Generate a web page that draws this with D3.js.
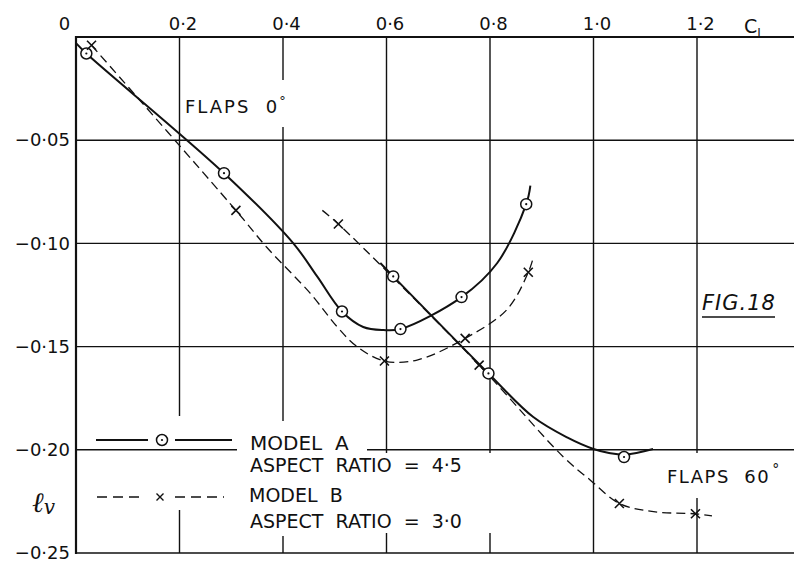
<!DOCTYPE html>
<html>
<head>
<meta charset="utf-8">
<script src="https://cdn.jsdelivr.net/npm/d3@7"></script>
<style>
  body { margin: 0; background: #fff; }
  svg { display: block; }
  text { font-family: "DejaVu Sans", sans-serif; fill: #111; white-space: pre; }
</style>
</head>
<body>
<div id="chart"></div>
<script>
// lift coefficient ticks along the top, lv ticks down the left
var xTicks = [0, 0.2, 0.4, 0.6, 0.8, 1.0, 1.2];
var yTicks = [-0.05, -0.10, -0.15, -0.20, -0.25];

// model A (aspect ratio 4.5), solid line, circle markers
var aFlaps0Line = [[0.0, -0.003], [0.02, -0.008], [0.286, -0.066], [0.42, -0.100], [0.466, -0.116],
    [0.514, -0.133], [0.555, -0.1405], [0.594, -0.142], [0.627, -0.1415], [0.745, -0.126],
    [0.814, -0.1095], [0.87, -0.081], [0.878, -0.072]];
var aFlaps0Pts = [[0.02, -0.008], [0.286, -0.066], [0.514, -0.133], [0.627, -0.1415], [0.745, -0.126], [0.87, -0.081]];
var aFlaps60Line = [[0.588, -0.1095], [0.613, -0.116], [0.797, -0.163], [0.883, -0.184], [0.949, -0.194],
    [1.0, -0.1996], [1.03, -0.2015], [1.062, -0.2023], [1.115, -0.1996]];
var aFlaps60Pts = [[0.613, -0.116], [0.797, -0.163], [1.059, -0.2035]];

// model B (aspect ratio 3.0), dashed line, cross markers
var bFlaps0Line = [[0.03, -0.004], [0.309, -0.084], [0.369, -0.102], [0.452, -0.124], [0.505, -0.1405],
    [0.543, -0.150], [0.596, -0.157], [0.659, -0.1565], [0.752, -0.146], [0.833, -0.132],
    [0.874, -0.114], [0.884, -0.1066]];
var bFlaps0Pts = [[0.03, -0.004], [0.309, -0.084], [0.596, -0.157], [0.752, -0.146], [0.874, -0.114]];
var bFlaps60Line = [[0.476, -0.084], [0.507, -0.0906], [0.779, -0.159], [0.942, -0.2035], [0.994, -0.2147],
    [1.050, -0.226], [1.116, -0.230], [1.197, -0.231], [1.229, -0.232]];
var bFlaps60Pts = [[0.507, -0.0906], [0.779, -0.159], [1.050, -0.226], [1.197, -0.231]];

var width = 794, height = 565;
var plotLeft = 76, plotTop = 37, plotBottom = 553;

var svg = d3.select('#chart').append('svg')
    .attr('width', width)
    .attr('height', height);

svg.append('rect').attr('width', width).attr('height', height).attr('fill', '#fff');

var x = d3.scaleLinear().domain([0, 1.2]).range([plotLeft, 697]);
var y = d3.scaleLinear().domain([0, -0.25]).range([plotTop, plotBottom]);

function fmt(d){
    return d3.format('.1f')(d).replace('.', '·');
}

// vertical grid lines
svg.append('g')
    .selectAll('line')
    .data(xTicks.slice(1))
    .enter().append('line')
    .attr('x1', function(d){ return x(d); })
    .attr('x2', function(d){ return x(d); })
    .attr('y1', plotTop)
    .attr('y2', plotBottom)
    .attr('stroke', '#111')
    .attr('stroke-width', 1.4);

// gaps in the verticals where the legend and labels sit
var white = svg.append('g').attr('fill', '#fff');
white.append('rect').attr('x', 88).attr('y', 416).attr('width', 152).attr('height', 94);
white.append('rect').attr('x', 240).attr('y', 421).attr('width', 125).attr('height', 115);
white.append('rect').attr('x', 365).attr('y', 453).attr('width', 135).attr('height', 80);
white.append('rect').attr('x', 640).attr('y', 453).attr('width', 154).attr('height', 45);
white.append('rect').attr('x', 183).attr('y', 80).attr('width', 120).attr('height', 47);

// horizontal grid lines
svg.append('g')
    .selectAll('line')
    .data(yTicks.slice(0, -1))
    .enter().append('line')
    .attr('x1', plotLeft)
    .attr('x2', width)
    .attr('y1', function(d){ return y(d); })
    .attr('y2', function(d){ return y(d); })
    .attr('stroke', '#111')
    .attr('stroke-width', 1.4);

svg.append('rect').attr('x', 237).attr('y', 440).attr('width', 130).attr('height', 18).attr('fill', '#fff');

// frame
svg.append('line').attr('x1', plotLeft).attr('x2', width).attr('y1', plotTop).attr('y2', plotTop)
    .attr('stroke', '#111').attr('stroke-width', 2);
svg.append('line').attr('x1', plotLeft).attr('x2', plotLeft).attr('y1', plotTop - 1).attr('y2', plotBottom + 1)
    .attr('stroke', '#111').attr('stroke-width', 2.2);
svg.append('line').attr('x1', plotLeft).attr('x2', width).attr('y1', plotBottom).attr('y2', plotBottom)
    .attr('stroke', '#111').attr('stroke-width', 1.6);

// axes, labels only
var xAxis = svg.append('g')
    .attr('transform', 'translate(0,' + (plotTop - 4) + ')')
    .call(d3.axisTop(x).tickValues(xTicks).tickSize(0).tickFormat(function(d){ return d === 0 ? '0' : fmt(d); }));
xAxis.select('.domain').remove();
xAxis.selectAll('text')
    .attr('font-size', 18)
    .attr('dx', function(d){ return d === 0 ? -12 : 3; })
    .attr('dy', 0)
    .style('font-family', '"DejaVu Sans", sans-serif')
    .attr('fill', '#111');

var yAxis = svg.append('g')
    .attr('transform', 'translate(' + (plotLeft - 6) + ',0)')
    .call(d3.axisLeft(y).tickValues(yTicks).tickSize(0).tickFormat(function(d){ return '−' + d3.format('.2f')(-d).replace('.', '·'); }));
yAxis.select('.domain').remove();
yAxis.selectAll('text')
    .attr('font-size', 18)
    .attr('x', 0)
    .style('font-family', '"DejaVu Sans", sans-serif')
    .attr('fill', '#111');

var cl = svg.append('text').attr('x', 744).attr('y', 33).attr('font-size', 19);
cl.append('tspan').text('C');
cl.append('tspan').attr('font-size', 12).attr('dy', 4).text('L');

var lv = svg.append('text').attr('x', 32).attr('y', 512)
    .style('font-family', '"DejaVu Serif", serif').style('font-style', 'italic').attr('font-size', 28);
lv.append('tspan').text('ℓ');
lv.append('tspan').attr('font-size', 20).attr('dy', 2).text('v');

// curves
var line = d3.line()
    .x(function(d){ return x(d[0]); })
    .y(function(d){ return y(d[1]); })
    .curve(d3.curveCatmullRom.alpha(0.5));

[aFlaps0Line, aFlaps60Line].forEach(function(data){
    svg.append('path').attr('d', line(data))
        .attr('fill', 'none').attr('stroke', '#111').attr('stroke-width', 2);
});
[bFlaps0Line, bFlaps60Line].forEach(function(data){
    svg.append('path').attr('d', line(data))
        .attr('fill', 'none').attr('stroke', '#111').attr('stroke-width', 1.3)
        .attr('stroke-dasharray', '9,5');
});

function circleMark(g, px, py){
    g.append('circle').attr('cx', px).attr('cy', py).attr('r', 5.5)
        .attr('fill', '#fff').attr('stroke', '#111').attr('stroke-width', 1.5);
    g.append('circle').attr('cx', px).attr('cy', py).attr('r', 1.1).attr('fill', '#111');
}
function crossMark(g, px, py){
    g.append('path').attr('d', 'M-4.5,-4.5L4.5,4.5M-4.5,4.5L4.5,-4.5')
        .attr('transform', 'translate(' + px + ',' + py + ')')
        .attr('stroke', '#111').attr('stroke-width', 1.6);
}

var marks = svg.append('g');
aFlaps0Pts.concat(aFlaps60Pts).forEach(function(d){ circleMark(marks, x(d[0]), y(d[1])); });
bFlaps0Pts.concat(bFlaps60Pts).forEach(function(d){ crossMark(marks, x(d[0]), y(d[1])); });

// legend
var legend = svg.append('g');
legend.append('line').attr('x1', 96).attr('x2', 148).attr('y1', 440).attr('y2', 440)
    .attr('stroke', '#111').attr('stroke-width', 2);
legend.append('line').attr('x1', 175).attr('x2', 232).attr('y1', 440).attr('y2', 440)
    .attr('stroke', '#111').attr('stroke-width', 2);
circleMark(legend, 162, 440);
legend.append('line').attr('x1', 97).attr('x2', 142).attr('y1', 497).attr('y2', 497)
    .attr('stroke', '#111').attr('stroke-width', 1.3).attr('stroke-dasharray', '10,6');
legend.append('line').attr('x1', 175).attr('x2', 224).attr('y1', 497).attr('y2', 497)
    .attr('stroke', '#111').attr('stroke-width', 1.3).attr('stroke-dasharray', '10,6');
legend.append('path').attr('d', 'M-3.5,-3.5L3.5,3.5M-3.5,3.5L3.5,-3.5')
    .attr('transform', 'translate(160,497)').attr('stroke', '#111').attr('stroke-width', 1.4);

legend.append('text').attr('x', 250).attr('y', 450).attr('font-size', 20).text('MODEL  A');
legend.append('text').attr('x', 250).attr('y', 472).attr('font-size', 19).text('ASPECT  RATIO  =  4·5');
legend.append('text').attr('x', 249).attr('y', 502).attr('font-size', 19).text('MODEL  B');
legend.append('text').attr('x', 250).attr('y', 528).attr('font-size', 19).text('ASPECT  RATIO  =  3·0');

// annotations
var f0 = svg.append('text').attr('x', 185).attr('y', 113).attr('font-size', 18).attr('letter-spacing', 2);
f0.append('tspan').text('FLAPS  0');
f0.append('tspan').attr('font-size', 13).attr('dy', -8).text('°');

var f60 = svg.append('text').attr('x', 667).attr('y', 483).attr('font-size', 18).attr('letter-spacing', 1.5);
f60.append('tspan').text('FLAPS  60');
f60.append('tspan').attr('font-size', 14).attr('dy', -9).attr('dx', 2).text('°');

svg.append('text').attr('x', 702).attr('y', 310).attr('font-size', 21)
    .style('font-style', 'italic').attr('letter-spacing', 1).text('FIG.18');
svg.append('line').attr('x1', 702).attr('x2', 775).attr('y1', 317).attr('y2', 317)
    .attr('stroke', '#111').attr('stroke-width', 1.6);
</script>
</body>
</html>
